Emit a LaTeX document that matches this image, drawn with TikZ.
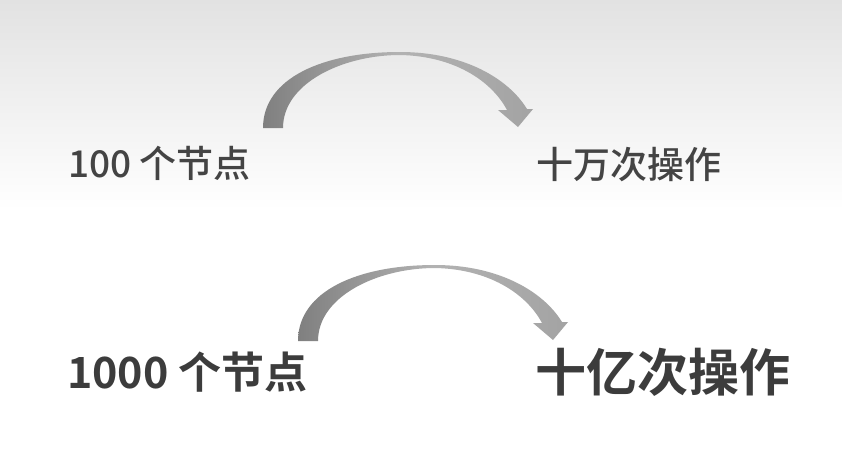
\documentclass[tikz,border=0pt]{standalone}
\usepackage{fontspec}
\newfontfamily\cjk{Noto Sans CJK SC}[BoldFont={Noto Sans CJK SC Bold}]
\newfontfamily\cjkmed{Noto Sans CJK SC Medium}
\definecolor{inkgray}{HTML}{444444}
\definecolor{inkdark}{HTML}{3C3C3C}
\definecolor{topgray}{HTML}{E2E2E2}
\tikzset{
  x=1pt, y=-1pt,
  small label/.style={anchor=base west, inner sep=0pt, text=inkgray,
    font=\cjkmed\fontsize{37}{37}\selectfont},
  big label/.style={anchor=base west, inner sep=0pt, text=inkdark,
    font=\cjk\bfseries\fontsize{43}{43}\selectfont},
  huge label/.style={anchor=base west, inner sep=0pt, text=inkdark,
    font=\cjk\bfseries\fontsize{51}{51}\selectfont},
  arc arrow/.pic={
    \shade[left color=black!50, right color=black!36, middle color=black!30,
           shading angle=90]
      (0,0) .. controls (0,-50) and (60,-76) .. (137,-76)
            .. controls (200,-76) and (245,-50) .. (264,-19)
      -- (270,-19) -- (255,-1) -- (235,-18) -- (244,-18)
            .. controls (228,-48) and (190,-72) .. (137,-73)
            .. controls (80,-73) and (20,-45) .. (20,0)
      -- cycle;
  }
}
\begin{document}
\begin{tikzpicture}
  \useasboundingbox (0,0) rectangle (842,471);
  % page background: grey haze at the top fading to white
  \fill[white] (0,0) rectangle (842,471);
  \shade[top color=topgray, bottom color=white] (0,0) rectangle (842,210);

  % first case
  \node[small label] (n100) at (68,177) {100 个节点};
  \node[small label] (ops5) at (536,178) {十万次操作};
  \pic (arrowA) at (263,128) {arc arrow};

  % second case
  \node[big label] (n1000) at (67,388) {1000 个节点};
  \node[huge label] (ops9) at (535,391) {十亿次操作};
  \pic (arrowB) at (298,341) {arc arrow};
\end{tikzpicture}
\end{document}
